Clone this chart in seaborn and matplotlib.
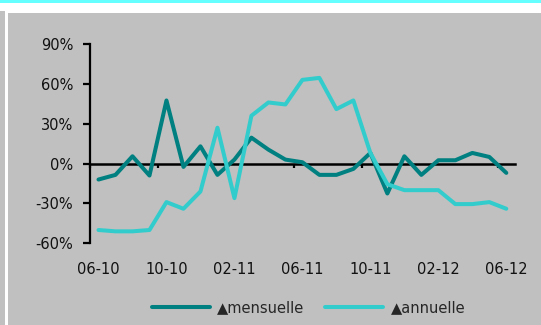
import matplotlib
matplotlib.use("Agg")
import matplotlib.pyplot as plt
from matplotlib.patches import Rectangle
from matplotlib.ticker import FixedLocator
import seaborn as sns
import pandas as pd

# Monthly periods (mm-yy)
months = ["06-10", "07-10", "08-10", "09-10", "10-10", "11-10", "12-10",
          "01-11", "02-11", "03-11", "04-11", "05-11", "06-11", "07-11",
          "08-11", "09-11", "10-11", "11-11", "12-11", "01-12", "02-12",
          "03-12", "04-12", "05-12", "06-12"]

# Variations in %
mensuelle = [-12, -8.5, 5.5, -9, 47.5, -2.5, 13, -8.5, 3, 19.5, 10.5, 3,
             1, -8.5, -8.5, -4, 8, -22.5, 5.5, -8.5, 2.5, 2.5, 8, 5, -7]
annuelle = [-50, -51, -51, -50, -29, -34, -21, 27, -26, 36, 46, 44.5,
            63, 64.5, 41, 47.5, 8, -15.5, -20, -20, -20, -30.5, -30.5, -29, -34]

series_labels = ["\u25B2mensuelle", "\u25B2annuelle"]
series_colors = ["#008080", "#33CCCC"]
y_ticks = [-60, -30, 0, 30, 60, 90]

sns.set_style("white")
plt.rcParams["font.family"] = ["DejaVu Sans"]

W, H = 541, 325
fig = plt.figure(figsize=(W / 100, H / 100), dpi=100, facecolor="white")

# page frame: cyan strip on top, grey panels
fig.patches.append(Rectangle((0, 1 - 3 / H), 1, 3 / H, transform=fig.transFigure,
                             facecolor="#66FFFF", edgecolor="none", zorder=-2))
fig.patches.append(Rectangle((0, 0), 5 / W, (H - 11) / H, transform=fig.transFigure,
                             facecolor="#C0C0C0", edgecolor="none", zorder=-2))
fig.patches.append(Rectangle((8 / W, 0), 1, (H - 13) / H, transform=fig.transFigure,
                             facecolor="#C0C0C0", edgecolor="none", zorder=-2))

ax = fig.add_axes([90 / W, (H - 243.3) / H, (514.8 - 90) / W, 199.3 / H])
ax.set_zorder(1)
ax.set_facecolor("none")

n = len(months)
df = pd.DataFrame({
    "pos": list(range(n)) * 2,
    "mois": months * 2,
    "valeur": mensuelle + annuelle,
    "serie": [series_labels[0]] * n + [series_labels[1]] * n,
})

sns.lineplot(data=df, x="pos", y="valeur", hue="serie", hue_order=series_labels,
             palette=series_colors, linewidth=2.9, sort=False, ax=ax, zorder=3)

ax.set_xlim(-0.5, n - 0.5)
ax.set_ylim(-60, 90)
ax.set_xlabel("")
ax.set_ylabel("")

for s in ["top", "right"]:
    ax.spines[s].set_visible(False)
ax.spines["left"].set_color("black")
ax.spines["left"].set_linewidth(1.6)
ax.spines["bottom"].set_position(("data", 0))
ax.spines["bottom"].set_color("black")
ax.spines["bottom"].set_linewidth(1.8)

ax.set_yticks(y_ticks)
ax.set_yticklabels([f"{v}%" for v in y_ticks])
ax.tick_params(axis="y", direction="out", length=5, width=1.6, color="black",
               pad=7, labelsize=10.5, labelcolor="#111111", left=True)

label_pos = list(range(0, n, 4))
ax.set_xticks(label_pos)
ax.set_xticklabels([months[i] for i in label_pos])
ax.xaxis.set_minor_locator(FixedLocator([p - 0.5 for p in label_pos]))
ax.tick_params(axis="x", which="major", length=0, pad=71, labelsize=10.5,
               labelcolor="#111111", bottom=True)
ax.tick_params(axis="x", which="minor", direction="out", length=3, width=1.6,
               color="black", bottom=True)

sns.move_legend(ax, "center", bbox_to_anchor=(308.5 / W, 1 - 308 / H),
                bbox_transform=fig.transFigure, ncol=2, frameon=False, title=None,
                fontsize=10.5, handlelength=4.0, handletextpad=0.5, columnspacing=1.4)
for line in ax.get_legend().get_lines():
    line.set_linewidth(2.9)

fig.savefig("out.png", dpi=100, facecolor="white")
